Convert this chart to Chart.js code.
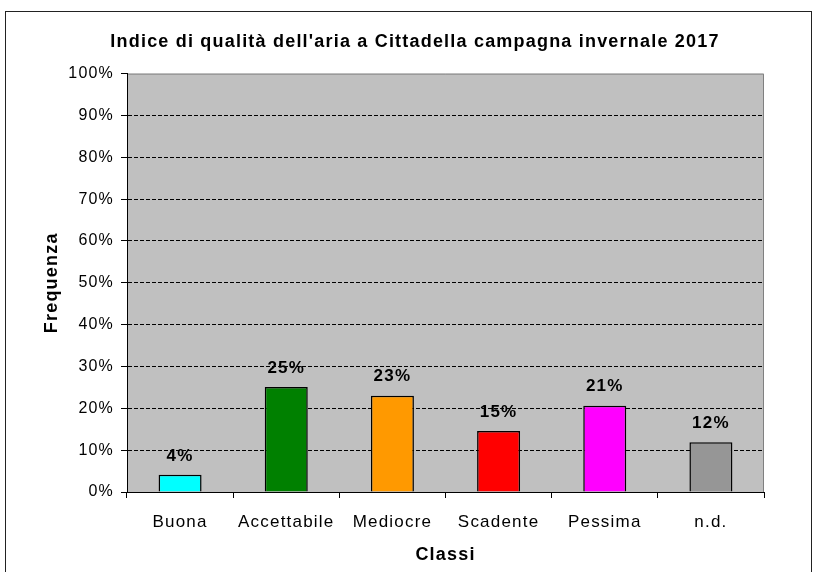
<!DOCTYPE html>
<html>
<head>
<meta charset="utf-8">
<script src="https://cdn.jsdelivr.net/npm/chart.js@4"></script>
<style>
  html, body { margin: 0; padding: 0; background: #fff; }
  #wrap { width: 814px; height: 572px; }
</style>
</head>
<body>
<div id="wrap"><canvas id="chartAQI" width="814" height="572"></canvas></div>
<script>
const classi = ['Buona', 'Accettabile', 'Mediocre', 'Scadente', 'Pessima', 'n.d.'];
const frequenza = [4.1, 25.1, 23.0, 14.6, 20.6, 11.9];
const etichette = ['4%', '25%', '23%', '15%', '21%', '12%'];
const colori = ['#00FFFF', '#008000', '#FF9900', '#FF0000', '#FF00FF', '#969696'];

const FONT = "'Liberation Sans', Arial, sans-serif";

// background, outer frame and letter spacing
const sfondo = {
  id: 'sfondo',
  beforeDraw(chart) {
    const { ctx, chartArea: a } = chart;
    ctx.save();
    ctx.fillStyle = '#fff';
    ctx.fillRect(0, 0, chart.width, chart.height);
    ctx.strokeStyle = '#222';
    ctx.lineWidth = 1;
    ctx.strokeRect(5.5, 11.5, 806, 600);
    ctx.fillStyle = '#C0C0C0';
    ctx.fillRect(a.left, a.top, a.right - a.left, a.bottom - a.top);
    // plot frame, top and right
    ctx.strokeStyle = '#808080';
    ctx.beginPath();
    ctx.moveTo(a.left, a.top + 0.5);
    ctx.lineTo(a.right - 0.5, a.top + 0.5);
    ctx.lineTo(a.right - 0.5, a.bottom);
    ctx.stroke();
    ctx.restore();
    ctx.letterSpacing = '1.2px';
  }
};

// percent labels above bars
const etichetteBarre = {
  id: 'etichetteBarre',
  afterDatasetsDraw(chart) {
    const { ctx } = chart;
    const meta = chart.getDatasetMeta(0);
    ctx.save();
    ctx.font = 'bold 17px ' + FONT;
    ctx.fillStyle = '#000';
    ctx.textAlign = 'center';
    ctx.textBaseline = 'middle';
    meta.data.forEach((bar, i) => {
      ctx.fillText(etichette[i], bar.x, bar.y - 19);
    });
    ctx.restore();
  }
};

new Chart(document.getElementById('chartAQI'), {
  type: 'bar',
  data: {
    labels: classi,
    datasets: [{
      data: frequenza,
      backgroundColor: colori,
      borderColor: '#000',
      borderWidth: 1.5,
      barPercentage: 0.405,
      categoryPercentage: 1
    }]
  },
  options: {
    responsive: false,
    animation: false,
    layout: { padding: { left: 16, right: 0, top: 0, bottom: 0 } },
    plugins: {
      legend: { display: false },
      tooltip: { enabled: false },
      title: {
        display: true,
        text: "Indice di qualità dell'aria a Cittadella campagna invernale 2017",
        color: '#000',
        font: { family: FONT, size: 18, weight: 'bold' },
        padding: { top: 31, bottom: 21 }
      }
    },
    scales: {
      x: {
        afterFit(scale) { scale.height = 80; },
        grid: { drawOnChartArea: false, drawTicks: true, tickLength: 6, tickColor: '#000', offset: true },
        border: { color: '#000', width: 1 },
        ticks: { color: '#000', font: { family: FONT, size: 17 }, padding: 14 },
        title: {
          display: true,
          text: 'Classi',
          color: '#000',
          font: { family: FONT, size: 18, weight: 'bold' },
          padding: { top: 0, bottom: 6 }
        }
      },
      y: {
        min: 0,
        max: 100,
        afterFit(scale) { scale.width = 111; },
        ticks: {
          stepSize: 10,
          color: '#000',
          font: { family: FONT, size: 16 },
          padding: 7,
          callback: v => v + '%'
        },
        grid: {
          color: c => c.tick && c.tick.value === 100 ? 'rgba(0,0,0,0)' : '#000',
          tickBorderDash: [],
          tickColor: '#000',
          tickLength: 6
        },
        border: { color: '#000', width: 1, dash: [4, 2] },
        title: {
          display: true,
          text: 'Frequenza',
          color: '#000',
          font: { family: FONT, size: 18, weight: 'bold' },
          padding: { top: 25, bottom: 0 }
        }
      },
      // empty right margin
      margine: {
        type: 'linear',
        position: 'right',
        afterFit(scale) { scale.width = 50; },
        grid: { display: false },
        border: { display: false },
        ticks: { display: false }
      }
    }
  },
  plugins: [sfondo, etichetteBarre]
});
</script>
</body>
</html>
